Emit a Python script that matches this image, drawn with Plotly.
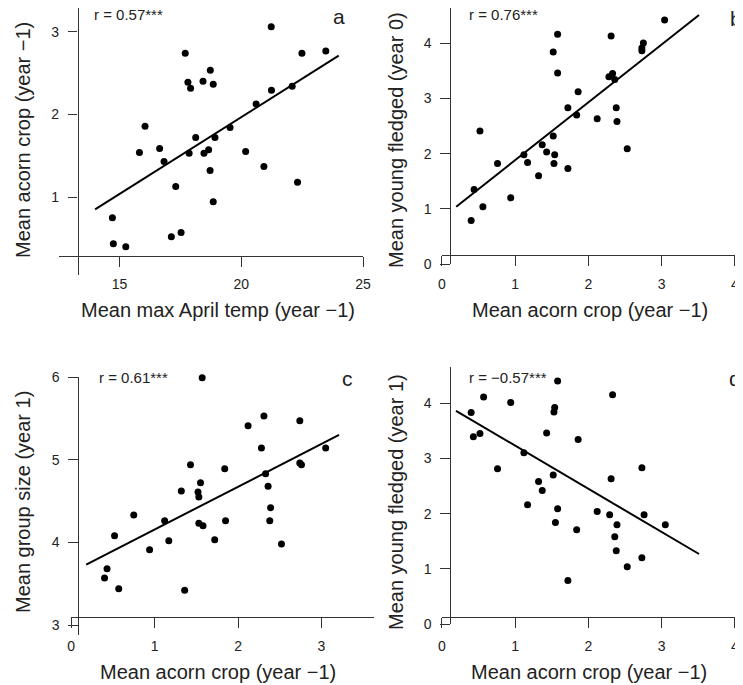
import plotly.graph_objects as go

# the page body adds an 8px margin, so the figure is drawn 8px smaller and
# every reference pixel position is shifted by that offset
OFF = 8
W, H = 743 - OFF, 685 - OFF

# ---------------- data ----------------
# Panel a: mean max April temp (year -1) vs mean acorn crop (year -1)
a_temp = [14.71, 14.75, 15.26, 15.82, 16.05, 16.65, 16.83, 17.31, 17.13, 17.53, 17.70,
          17.81, 17.92, 17.86, 18.13, 18.43, 18.47, 18.66, 18.73, 18.85, 18.72, 18.92,
          18.85, 19.54, 20.18, 20.61, 20.93, 21.23, 21.24, 22.09, 22.31, 22.49, 23.47]
a_acorn = [0.754, 0.438, 0.402, 1.541, 1.857, 1.590, 1.432, 1.129, 0.523, 0.576, 2.741,
           2.390, 2.317, 1.533, 1.723, 2.402, 1.533, 1.574, 2.535, 2.366, 1.323, 1.723,
           0.947, 1.844, 1.554, 2.127, 1.372, 3.061, 2.293, 2.341, 1.182, 2.741, 2.766]
a_fit_x = [14.0, 24.0]
a_fit_y = [0.855, 2.71]

# Panel b: mean acorn crop (year -1) vs mean young fledged (year 0)
b_acorn = [0.40, 0.44, 0.52, 0.56, 0.76, 0.94, 1.12, 1.17, 1.32, 1.37, 1.43, 1.52, 1.52,
           1.54, 1.53, 1.58, 1.58, 1.72, 1.72, 1.84, 1.86, 2.12, 2.28, 2.31, 2.33, 2.36,
           2.38, 2.39, 2.53, 2.73, 2.73, 2.75, 3.04]
b_fledged = [0.79, 1.35, 2.41, 1.04, 1.82, 1.20, 1.98, 1.84, 1.60, 2.16, 2.03, 2.32, 3.84,
             1.98, 1.82, 4.16, 3.46, 2.83, 1.73, 2.70, 3.12, 2.63, 3.39, 4.13, 3.45, 3.34,
             2.83, 2.58, 2.09, 3.91, 3.86, 4.00, 4.42]
b_fit_x = [0.196, 3.51]
b_fit_y = [1.04, 4.51]

# Panel c: mean acorn crop (year -1) vs mean group size (year 1)
c_acorn = [0.40, 0.43, 0.52, 0.57, 0.75, 0.94, 1.12, 1.17, 1.32, 1.36, 1.43, 1.52, 1.53,
           1.55, 1.53, 1.58, 1.57, 1.72, 1.84, 1.85, 2.12, 2.28, 2.31, 2.33, 2.36, 2.39,
           2.38, 2.52, 2.74, 2.74, 2.76, 3.05]
c_group = [3.57, 3.68, 4.08, 3.44, 4.33, 3.91, 4.26, 4.02, 4.62, 3.42, 4.94, 4.61, 4.55,
           4.72, 4.23, 4.20, 5.99, 4.03, 4.89, 4.26, 5.41, 5.14, 5.53, 4.83, 4.68, 4.42,
           4.26, 3.98, 5.47, 4.96, 4.94, 5.14]
c_fit_x = [0.18, 3.21]
c_fit_y = [3.73, 5.30]

# Panel d: mean acorn crop (year -1) vs mean young fledged (year 1)
d_acorn = [0.40, 0.43, 0.52, 0.57, 0.76, 0.94, 1.12, 1.17, 1.32, 1.37, 1.43, 1.52, 1.53,
           1.54, 1.55, 1.58, 1.58, 1.72, 1.84, 1.86, 2.12, 2.29, 2.31, 2.33, 2.36, 2.38,
           2.39, 2.53, 2.73, 2.73, 2.76, 3.05]
d_fledged = [3.83, 3.39, 3.45, 4.11, 2.81, 4.01, 3.10, 2.16, 2.58, 2.42, 3.46, 2.70, 3.84,
             3.92, 1.84, 2.09, 4.40, 0.79, 1.71, 3.34, 2.04, 1.98, 2.63, 4.15, 1.58, 1.33,
             1.80, 1.04, 2.83, 1.20, 1.98, 1.80]
d_fit_x = [0.193, 3.51]
d_fit_y = [3.86, 1.27]

r_labels = ["r = 0.57***", "r = 0.76***", "r = 0.61***", "r = \u22120.57***"]
panel_letters = ["a", "b", "c", "d"]
x_titles = ["Mean max April temp (year \u22121)", "Mean acorn crop (year \u22121)",
            "Mean acorn crop (year \u22121)", "Mean acorn crop (year \u22121)"]
y_titles = ["Mean acorn crop (year \u22121)", "Mean young fledged (year 0)",
            "Mean group size (year 1)", "Mean young fledged (year 1)"]
x_ticks = [[15, 20, 25], [0, 1, 2, 3, 4], [0, 1, 2, 3], [0, 1, 2, 3, 4]]
y_ticks = [[1, 2, 3], [0, 1, 2, 3, 4], [3, 4, 5, 6], [0, 1, 2, 3, 4]]

# ---------------- layout geometry (reference pixels) ----------------
def fx(p):
    return min(1.0, max(0.0, (p - OFF) / W))

def fy(p):
    return min(1.0, max(0.0, 1 - (p - OFF) / H))

FONT = "Liberation Sans, Arial, sans-serif"
LINE = "#333333"
TXT = "#222222"

# per panel: x domain px, x range, y domain px (top,bottom), y range, x-axis y px, y-axis x px
geo = [
    dict(xd=(59, 363.3), xr=(12.518, 25.01), yd=(8, 275), yr=(0.0616, 3.286), xpos=255.5, ypos=77.5),
    dict(xd=(441.7, 743), xr=(-0.002, 4.11), yd=(8, 264.3), yr=(-0.002, 4.635), xpos=255, ypos=450),
    dict(xd=(71, 374), xr=(-0.002, 3.629), yd=(376.7, 635), yr=(2.879, 6.004), xpos=616.7, ypos=78),
    dict(xd=(441.7, 743), xr=(-0.002, 4.11), yd=(366.7, 624.3), yr=(-0.002, 4.658), xpos=616.7, ypos=450),
]

xs = [a_temp, b_acorn, c_acorn, d_acorn]
ys = [a_acorn, b_fledged, c_group, d_fledged]
fxs = [a_fit_x, b_fit_x, c_fit_x, d_fit_x]
fys = [a_fit_y, b_fit_y, c_fit_y, d_fit_y]

fig = go.Figure()
layout = dict(
    width=W, height=H, autosize=False,
    margin=dict(l=0, r=0, t=0, b=0, pad=0),
    paper_bgcolor="white", plot_bgcolor="white",
    showlegend=False,
    font=dict(family=FONT, color=TXT),
)
annotations = []

for i in range(4):
    n = "" if i == 0 else str(i + 1)
    g = geo[i]
    fig.add_trace(go.Scatter(
        x=fxs[i], y=fys[i], mode="lines", xaxis="x" + n, yaxis="y" + n,
        line=dict(color="black", width=2), hoverinfo="skip", cliponaxis=False))
    fig.add_trace(go.Scatter(
        x=xs[i], y=ys[i], mode="markers", xaxis="x" + n, yaxis="y" + n,
        marker=dict(color="black", size=7), cliponaxis=False))
    layout["xaxis" + n] = dict(
        domain=[fx(g["xd"][0]), fx(g["xd"][1])], range=list(g["xr"]),
        anchor="free", position=fy(g["xpos"]), side="bottom",
        showline=True, linecolor=LINE, linewidth=1.3, showgrid=False, zeroline=False,
        ticks="outside", ticklen=10, tickwidth=1.3, tickcolor=LINE,
        tickmode="array", tickvals=x_ticks[i], ticktext=[str(v) for v in x_ticks[i]],
        tickfont=dict(size=14, family=FONT, color=TXT),
        ticklabelstandoff=6, automargin=False, fixedrange=True)
    layout["yaxis" + n] = dict(
        domain=[fy(g["yd"][1]), fy(g["yd"][0])], range=list(g["yr"]),
        anchor="free", position=fx(g["ypos"]), side="left",
        showline=True, linecolor=LINE, linewidth=1.3, showgrid=False, zeroline=False,
        ticks="outside", ticklen=9.5, tickwidth=1.3, tickcolor=LINE,
        tickmode="array", tickvals=y_ticks[i], ticktext=[str(v) for v in y_ticks[i]],
        tickfont=dict(size=14, family=FONT, color=TXT),
        ticklabelstandoff=6, automargin=False, fixedrange=True)

# text placements (reference pixels)
r_pos = [(92, 15), (466.7, 15), (96.7, 377), (466.7, 377)]
letter_pos = [(339, 16), (736, 18), (347, 378), (735, 378)]
xt_pos = [(217.5, 310), (589.5, 310), (217.5, 672), (589, 672)]
yt_pos = [(23, 140), (396, 140), (23, 502), (396, 502)]

for i in range(4):
    annotations.append(dict(text=r_labels[i], x=fx(r_pos[i][0]), y=fy(r_pos[i][1]),
                            xref="paper", yref="paper", xanchor="left", yanchor="middle",
                            showarrow=False, font=dict(size=15, family=FONT, color=TXT)))
    annotations.append(dict(text=panel_letters[i], x=fx(letter_pos[i][0]), y=fy(letter_pos[i][1]),
                            xref="paper", yref="paper", xanchor="center", yanchor="middle",
                            showarrow=False, font=dict(size=21, family=FONT, color=TXT)))
    annotations.append(dict(text=x_titles[i], x=fx(xt_pos[i][0]), y=fy(xt_pos[i][1]),
                            xref="paper", yref="paper", xanchor="center", yanchor="middle",
                            showarrow=False, font=dict(size=20, family=FONT, color=TXT)))
    annotations.append(dict(text=y_titles[i], x=fx(yt_pos[i][0]), y=fy(yt_pos[i][1]),
                            xref="paper", yref="paper", xanchor="center", yanchor="middle",
                            textangle=-90, showarrow=False,
                            font=dict(size=20, family=FONT, color=TXT)))

layout["annotations"] = annotations
fig.update_layout(**layout)
fig.write_html("out.html")
